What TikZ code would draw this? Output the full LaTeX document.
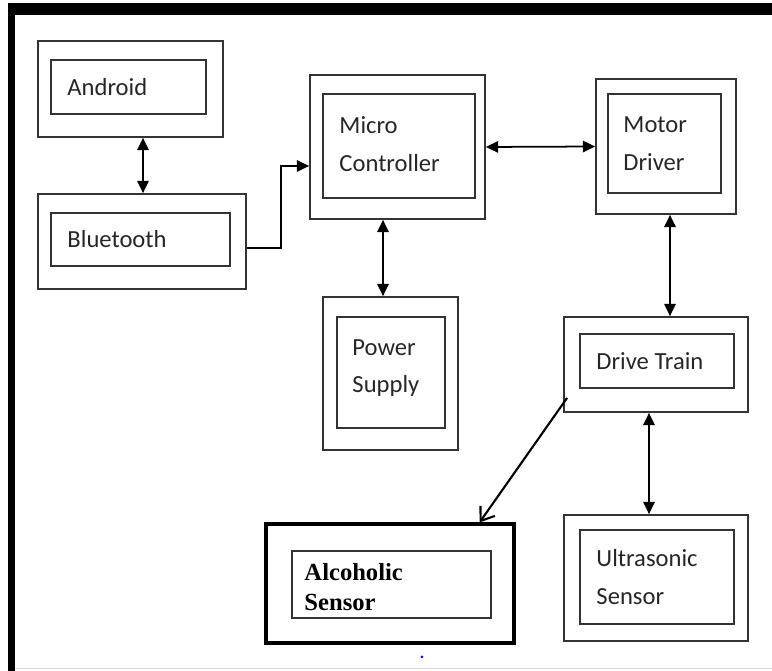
\documentclass[tikz,border=0pt]{standalone}
\usepackage{fontspec}
\setmainfont{Carlito}
\newfontfamily\timesfont{Liberation Serif}
\usepackage{tikz}
\usetikzlibrary{arrows.meta}

\begin{document}
\begin{tikzpicture}[x=0.02cm, y=-0.02cm, font=\fontsize{14}{21.5}\selectfont,
  outbox/.style={draw=black!80, line width=1pt, inner sep=0pt},
  inbox/.style={draw=black!80, line width=1pt, inner sep=0pt},
  txt/.style={anchor=west, inner sep=0pt, align=left, text=black!85},
  dbl/.style={line width=1pt, {Triangle[length=7pt,width=6.5pt]}-{Triangle[length=7pt,width=6.5pt]}},
  one/.style={line width=1pt, -{Triangle[length=7pt,width=6.5pt]}}]

\useasboundingbox (0,0) rectangle (772,671);

% frame
\fill[black] (8,3) rectangle (772,15);
\fill[black] (8,3) rectangle (15,671);
\draw[black!15, line width=1pt] (15,668.5) -- (772,668.5);

% android
\node[outbox, minimum width=3.70cm, minimum height=1.92cm] (android) at (130.5,89) {};
\node[inbox, minimum width=3.10cm, minimum height=1.08cm] (android-in) at (128.5,87) {};
\node[txt] (android-t) at ([xshift=0.34cm]android-in.west) {Android};

% bluetooth
\node[outbox, minimum width=4.16cm, minimum height=1.90cm] (bt) at (142,241.5) {};
\node[inbox, minimum width=3.58cm, minimum height=1.06cm] (bt-in) at (140.5,239.5) {};
\node[txt] (bt-t) at ([xshift=0.34cm]bt-in.west) {Bluetooth};

% micro controller
\node[outbox, minimum width=3.50cm, minimum height=2.88cm] (micro) at (397.5,147) {};
\node[inbox, minimum width=3.04cm, minimum height=2.08cm] (micro-in) at (399,146) {};
\node[txt] (micro-t) at ([xshift=0.34cm,yshift=0.04cm]micro-in.west) {Micro\\Controller};

% motor driver
\node[outbox, minimum width=2.80cm, minimum height=2.70cm] (motor) at (666,146.5) {};
\node[inbox, minimum width=2.26cm, minimum height=1.98cm] (motor-in) at (664.5,143.5) {};
\node[txt] (motor-t) at ([xshift=0.32cm]motor-in.west) {Motor\\Driver};

% power supply
\node[outbox, minimum width=2.70cm, minimum height=3.06cm] (power) at (390.5,373.5) {};
\node[inbox, minimum width=2.16cm, minimum height=2.22cm] (power-in) at (391,372.5) {};
\node[txt] (power-t) at ([xshift=0.32cm,yshift=0.09cm]power-in.west) {Power\\Supply};

% drive train
\node[outbox, minimum width=3.68cm, minimum height=1.90cm] (drive) at (656,364.5) {};
\node[inbox, minimum width=3.08cm, minimum height=1.08cm] (drive-in) at (657,361) {};
\node[txt] (drive-t) at ([xshift=0.34cm]drive-in.west) {Drive Train};

% ultrasonic sensor
\node[outbox, minimum width=3.68cm, minimum height=2.52cm] (ultra) at (656,578) {};
\node[inbox, minimum width=3.08cm, minimum height=1.88cm] (ultra-in) at (657,577) {};
\node[txt] (ultra-t) at ([xshift=0.34cm]ultra-in.west) {Ultrasonic\\Sensor};

% alcoholic sensor
\node[outbox, line width=1.8pt, draw=black, minimum width=4.96cm, minimum height=2.38cm] (alc) at (390,583.5) {};
\node[inbox, minimum width=3.98cm, minimum height=1.34cm] (alc-in) at (391.5,584.5) {};
\node[txt, text=black, font=\timesfont\bfseries\fontsize{14}{17}\selectfont] (alc-t) at ([xshift=0.26cm,yshift=-0.06cm]alc-in.west) {Alcoholic\\Sensor};

% connectors
\draw[dbl] (android.south -| 143,0) -- (bt.north -| 143,0); %android - bluetooth
\draw[one] ([yshift=-0.13cm]bt.east) -- ++(34,0) |- ([yshift=-0.38cm]micro.west); %bluetooth - micro
\draw[dbl] (micro.east) -- (motor.west); %micro - motor
\draw[dbl] (micro.south -| 383,0) -- (power.north -| 383,0); %micro - power
\draw[dbl] (motor.south -| 670,0) -- (drive.north -| 670,0); %motor - drive
\draw[dbl] (drive.south -| 649,0) -- (ultra.north -| 649,0); %drive - ultrasonic
\draw[line width=1.2pt, -{Straight Barb[length=7pt,width=10pt]}] ([shift={(4,-15)}]drive.south west) -- ([xshift=-0.72cm]alc.north east); %drive - alcoholic

\fill[blue] (422,657) circle (1.5);
\end{tikzpicture}
\end{document}
